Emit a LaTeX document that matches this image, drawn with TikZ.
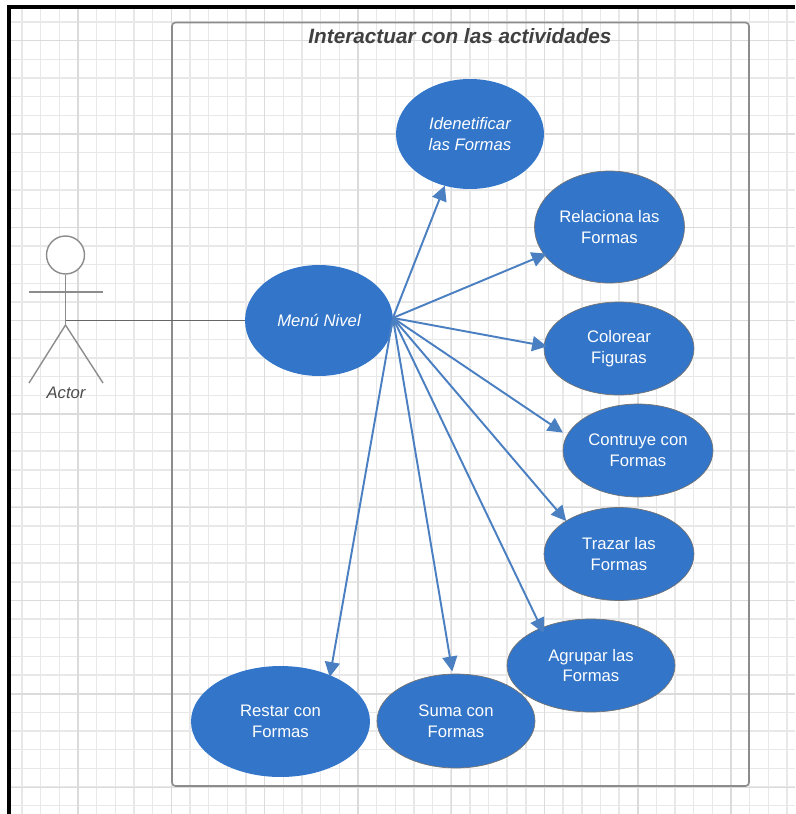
\documentclass[tikz,border=0pt]{standalone}
\usepackage{fontspec}
\setmainfont{Liberation Sans}
\usetikzlibrary{arrows.meta,shapes.geometric}
\definecolor{casefill}{HTML}{3275C9}
\definecolor{linkblue}{HTML}{4A7FC1}
\tikzset{
	usecase/.style={ellipse,fill=casefill,text=white,inner sep=0pt,outer sep=0pt,align=center,font=\fontsize{9.5}{11.7}\selectfont},
	caseedge/.style={usecase,draw=black!55,line width=0.4pt},
	link/.style={linkblue,line width=1.1pt,-{Triangle[length=8.5pt,width=8.5pt]}},
	stick/.style={black!45,line width=0.8pt},
	minorgrid/.style={black!9,line width=0.8pt},
	majorgrid/.style={black!14,line width=0.8pt}
}

\begin{document}
\begin{tikzpicture}[x=0.02cm,y=-0.02cm]
		\useasboundingbox (0,0) rectangle (795,814);
		%
		\foreach \gx in {22,40.66,...,795} {\draw[minorgrid] (\gx,8) -- (\gx,814);}
		\foreach \gy in {22,40.66,...,814} {\draw[minorgrid] (11,\gy) -- (795,\gy);}
		\foreach \gx in {78,171.3,...,795} {\draw[majorgrid] (\gx,8) -- (\gx,814);}
		\foreach \gy in {40.66,134,...,814} {\draw[majorgrid] (11,\gy) -- (795,\gy);}
		%
		\draw[black,line width=2.1pt] (9.2,814) -- (9.2,6.8) -- (795,6.8);
		%
		\draw[black!45,line width=0.9pt,rounded corners=2pt] (172,22.5) rectangle (749,786);
		\node[anchor=center,text=black!75,font=\fontsize{11.8}{14}\selectfont\bfseries\itshape] (title) at (460,36) {Interactuar con las actividades};
		%
		\node[circle,draw=black!45,fill=white,line width=0.8pt,minimum size=0.76cm,inner sep=0pt] (head) at (65.5,255) {};
		\coordinate (hip) at (65.5,325);
		\coordinate (armleft) at (29,292);
		\coordinate (armright) at (103,292);
		\coordinate (footleft) at (29,383);
		\coordinate (footright) at (103,383);
		\draw[stick] (head) -- (hip);
		\draw[stick] (armleft) -- (armright);
		\draw[stick] (footleft) -- (hip) -- (footright);
		\node[text=black!70,font=\fontsize{9.5}{11.7}\selectfont\itshape] (actor) at (66,393) {Actor};
		%
		\node[usecase,minimum width=2.96cm,minimum height=2.22cm,font=\fontsize{9.5}{11.7}\selectfont\itshape] (menu) at (319,320.5) {Menú Nivel};
		\node[usecase,minimum width=2.96cm,minimum height=2.2cm,font=\fontsize{9.5}{11.7}\selectfont\itshape] (identificar) at (470,134) {Idenetificar\\las Formas};
		\node[caseedge,minimum width=3cm,minimum height=2.24cm] (relaciona) at (609.5,227) {Relaciona las\\Formas};
		\node[caseedge,minimum width=3cm,minimum height=1.86cm] (colorear) at (619,348.5) {Colorear\\Figuras};
		\node[caseedge,minimum width=3cm,minimum height=1.86cm] (contruye) at (638,450.5) {Contruye con\\Formas};
		\node[caseedge,minimum width=3cm,minimum height=1.86cm] (trazar) at (619,554) {Trazar las\\Formas};
		\node[caseedge,minimum width=3.36cm,minimum height=1.86cm] (agrupar) at (591,665.5) {Agrupar las\\Formas};
		\node[caseedge,minimum width=3.16cm,minimum height=1.88cm] (suma) at (456,721) {Suma con\\Formas};
		\node[usecase,minimum width=3.58cm,minimum height=2.22cm] (restar) at (280.5,721.5) {Restar con\\Formas};
		%
		\draw[black!60,line width=0.8pt] (hip |- menu.west) -- (menu.west);
		%
		\draw[link] (menu.2) -- (identificar.244);
		\draw[link,shorten >=-1.5pt] (menu.2) -- (relaciona.203);
		\draw[link,shorten >=-1.7pt] (menu.2) -- (colorear.178);
		\draw[link,shorten >=2.9pt] (menu.2) -- (contruye.168);
		\draw[link] (menu.2) -- (trazar.148);
		\draw[link,shorten >=-3.2pt] (menu.2) -- (agrupar.143);
		\draw[link,shorten >=1.5pt] (menu.2) -- (suma.94);
		\draw[link,shorten >=-1pt] (menu.2) -- (restar.43);
	\end{tikzpicture}
\end{document}
